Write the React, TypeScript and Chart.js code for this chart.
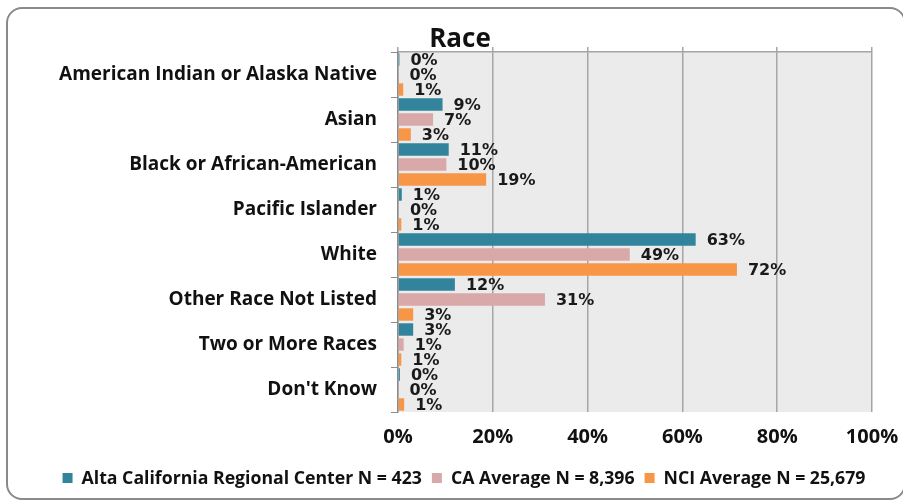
import React, { useEffect, useRef } from "react";
import { Chart, registerables } from "chart.js";

Chart.register(...registerables);

const chartTitle = "Race";

const categories = [
  "American Indian or Alaska Native",
  "Asian",
  "Black or African-American",
  "Pacific Islander",
  "White",
  "Other Race Not Listed",
  "Two or More Races",
  "Don't Know",
];

const altaValues = [0.3, 9.4, 10.7, 0.8, 62.8, 12.0, 3.2, 0.4];
const caValues = [0.1, 7.4, 10.2, 0.2, 48.9, 31.0, 1.2, 0.1];
const nciValues = [1.1, 2.7, 18.6, 0.7, 71.5, 3.2, 0.7, 1.3];

const seriesNames = [
  "Alta California Regional Center N = 423",
  "CA Average N = 8,396",
  "NCI Average N = 25,679",
];
const seriesColors = ["#31849b", "#d9a8a8", "#f79646"];
const xTicks = [0, 20, 40, 60, 80, 100];

const plotBgPlugin = {
  id: "plotBg",
  beforeDraw(chart: any) {
    const { ctx, chartArea } = chart;
    ctx.save();
    ctx.fillStyle = "#ebebeb";
    ctx.fillRect(chartArea.left, chartArea.top, chartArea.right - chartArea.left, chartArea.bottom - chartArea.top);
    ctx.restore();
  },
};

const valueLabelPlugin = {
  id: "valueLabels",
  afterDatasetsDraw(chart: any) {
    const { ctx } = chart;
    ctx.save();
    ctx.font = "bold 16px 'DejaVu Sans'";
    ctx.fillStyle = "#1a1a1a";
    ctx.textAlign = "left";
    ctx.textBaseline = "middle";
    chart.data.datasets.forEach((ds: any, di: number) => {
      const meta = chart.getDatasetMeta(di);
      meta.data.forEach((bar: any, i: number) => {
        const v = ds.data[i];
        ctx.fillText(Math.round(v) + "%", bar.x + 11, bar.y + 1);
      });
    });
    ctx.restore();
  },
};

const titleLegendPlugin = {
  id: "titleLegend",
  afterDraw(chart: any) {
    const { ctx } = chart;
    ctx.save();
    ctx.fillStyle = "#111";
    ctx.textBaseline = "middle";
    ctx.textAlign = "center";
    ctx.font = "bold 26px 'Open Sans'";
    ctx.fillText(chartTitle, 460, 40);

    ctx.font = "bold 17.7px 'Open Sans'";
    ctx.textAlign = "left";
    const box = 10;
    const gapText = 9;
    const gapItem = 10;
    const widths = seriesNames.map((n) => ctx.measureText(n).width);
    const total = widths.reduce((a, w) => a + box + gapText + w, 0) + gapItem * (seriesNames.length - 1);
    let x = 464 - total / 2;
    const y = 478;
    seriesNames.forEach((n, i) => {
      ctx.fillStyle = seriesColors[i];
      ctx.fillRect(x, y - box / 2, box, box);
      x += box + gapText;
      ctx.fillStyle = "#111";
      ctx.fillText(n, x, y + 1);
      x += widths[i] + gapItem;
    });
    ctx.restore();
  },
};

const zeroPad = (scale: any) => {
  scale.paddingLeft = 0;
  scale.paddingRight = 0;
  scale.paddingTop = 0;
  scale.paddingBottom = 0;
};

export default function App() {
  const ref = useRef<HTMLCanvasElement | null>(null);
  useEffect(() => {
    document.body.style.margin = "0";
    const chart = new Chart(ref.current as HTMLCanvasElement, {
      type: "bar",
      data: {
        labels: categories,
        datasets: [altaValues, caValues, nciValues].map((d, i) => ({
          label: seriesNames[i],
          data: d,
          backgroundColor: seriesColors[i],
          borderWidth: 0,
          barPercentage: 0.83,
          categoryPercentage: 1,
        })),
      },
      options: {
        indexAxis: "y",
        responsive: false,
        animation: false,
        layout: { padding: { left: 0, right: 31, top: 47, bottom: 0 } },
        plugins: {
          title: { display: false },
          legend: { display: false },
          tooltip: { enabled: false },
        },
        scales: {
          x: {
            min: 0,
            max: 100,
            afterBuildTicks(scale: any) {
              scale.ticks = xTicks.map((v) => ({ value: v }));
            },
            afterFit(scale: any) {
              scale.height = 89;
              zeroPad(scale);
            },
            ticks: {
              color: "#111",
              padding: 13,
              maxRotation: 0,
              font: { family: "'Open Sans'", size: 20, weight: "bold" },
              callback: (v: any) => v + "%",
            },
            grid: { color: "#a6a6a6", lineWidth: 1.5, drawTicks: false },
            border: { display: false },
          },
          x2: {
            position: "top",
            min: 0,
            max: 100,
            afterBuildTicks(scale: any) {
              scale.ticks = xTicks.map((v) => ({ value: v }));
            },
            afterFit(scale: any) {
              scale.height = 5;
              zeroPad(scale);
            },
            ticks: { display: false },
            grid: { color: "#a6a6a6", lineWidth: 1.5, drawOnChartArea: false, tickLength: 5 },
            border: { display: true, color: "#a6a6a6", width: 1.5 },
          },
          y: {
            afterFit(scale: any) {
              scale.width = 398;
              zeroPad(scale);
            },
            ticks: {
              color: "#111",
              padding: 14,
              font: { family: "'Open Sans'", size: 19, weight: "bold" },
            },
            grid: { color: "#8c8c8c", drawOnChartArea: false, tickLength: 7, offset: true },
            border: { display: true, color: "#8c8c8c", width: 1.5 },
          },
        },
      } as any,
      plugins: [plotBgPlugin, valueLabelPlugin, titleLegendPlugin],
    });
    return () => chart.destroy();
  }, []);

  return (
    <div style={{ position: "relative", width: 903, height: 501, overflow: "hidden", background: "#fff" }}>
      <div
        style={{
          position: "absolute",
          left: 6,
          top: 7,
          width: 900,
          height: 493,
          border: "2px solid #8a8a8a",
          borderRadius: 16,
          boxSizing: "border-box",
        }}
      />
      <canvas ref={ref} width={903} height={501} style={{ position: "absolute", left: 0, top: 0 }} />
    </div>
  );
}
